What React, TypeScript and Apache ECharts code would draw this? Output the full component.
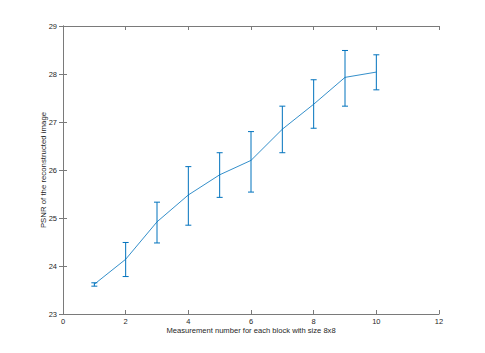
import React, { useEffect, useRef } from "react";
import * as echarts from "echarts";

const xValues = [1, 2, 3, 4, 5, 6, 7, 8, 9, 10];
const meanValues = [23.62, 24.14, 24.92, 25.48, 25.9, 26.2, 26.85, 27.37, 27.93, 28.04];
const upperValues = [23.65, 24.49, 25.33, 26.07, 26.36, 26.8, 27.33, 27.88, 28.49, 28.4];
const lowerValues = [23.58, 23.78, 24.48, 24.85, 25.43, 25.54, 26.36, 26.87, 27.33, 27.67];

const xLabel = "Measurement number for each block with size 8x8";
const yLabel = "PSNR of the reconstructed image";

const LINE = "#0072BD";
const AXIS = "#7a7a7a";
const TEXT = "#262626";
const FONT = "'Liberation Sans', Arial, Helvetica, sans-serif";

export default function App() {
  const ref = useRef<HTMLDivElement>(null);
  useEffect(() => {
    if (!ref.current) return;
    const chart = echarts.init(ref.current, undefined, { renderer: "svg" });
    const axisCommon = {
      axisLine: { show: true, lineStyle: { color: AXIS, width: 1 } },
      axisTick: { show: true, inside: true, length: 4, lineStyle: { color: AXIS, width: 1 } },
      splitLine: { show: false },
    };
    const errData = xValues.map((x, i) => [x, lowerValues[i], upperValues[i]]);
    chart.setOption({
      animation: false,
      backgroundColor: "#ffffff",
      grid: { left: 63, right: 46, top: 26, bottom: 39, containLabel: false },
      xAxis: [
        {
          type: "value",
          min: 0,
          max: 12,
          interval: 2,
          position: "bottom",
          ...axisCommon,
          axisLabel: { color: TEXT, fontSize: 7.5, fontFamily: FONT, margin: 3 },
          name: xLabel,
          nameLocation: "middle",
          nameGap: 12,
          nameMoveOverlap: false,
          nameTextStyle: { color: TEXT, fontSize: 7.6, fontFamily: FONT },
        },
        {
          type: "value",
          min: 0,
          max: 12,
          interval: 2,
          position: "top",
          ...axisCommon,
          axisLabel: { show: false },
        },
      ],
      yAxis: [
        {
          type: "value",
          min: 23,
          max: 29,
          interval: 1,
          position: "left",
          ...axisCommon,
          axisLabel: { color: TEXT, fontSize: 7.5, fontFamily: FONT, margin: 6 },
          name: yLabel,
          nameLocation: "middle",
          nameGap: 16,
          nameMoveOverlap: false,
          nameRotate: 90,
          nameTextStyle: { color: TEXT, fontSize: 7.8, fontFamily: FONT },
        },
        {
          type: "value",
          min: 23,
          max: 29,
          interval: 1,
          position: "right",
          ...axisCommon,
          axisLabel: { show: false },
        },
      ],
      series: [
        {
          type: "line",
          data: xValues.map((x, i) => [x, meanValues[i]]),
          symbol: "none",
          lineStyle: { color: LINE, width: 0.8 },
          z: 3,
        },
        {
          type: "custom",
          data: errData,
          z: 2,
          renderItem: (params: any, api: any) => {
            const x = api.value(0);
            const lo = api.coord([x, api.value(1)]);
            const hi = api.coord([x, api.value(2)]);
            const hw = 3;
            const style = { stroke: LINE, lineWidth: 1 };
            return {
              type: "group",
              children: [
                { type: "line", shape: { x1: lo[0], y1: lo[1], x2: hi[0], y2: hi[1] }, style },
                { type: "line", shape: { x1: hi[0] - hw, y1: hi[1], x2: hi[0] + hw, y2: hi[1] }, style },
                { type: "line", shape: { x1: lo[0] - hw, y1: lo[1], x2: lo[0] + hw, y2: lo[1] }, style },
              ],
            };
          },
        },
      ],
    });
    return () => chart.dispose();
  }, []);
  return (
    <div
      ref={ref}
      style={{ position: "fixed", left: 0, top: 0, width: 485, height: 353, background: "#fff" }}
    />
  );
}
